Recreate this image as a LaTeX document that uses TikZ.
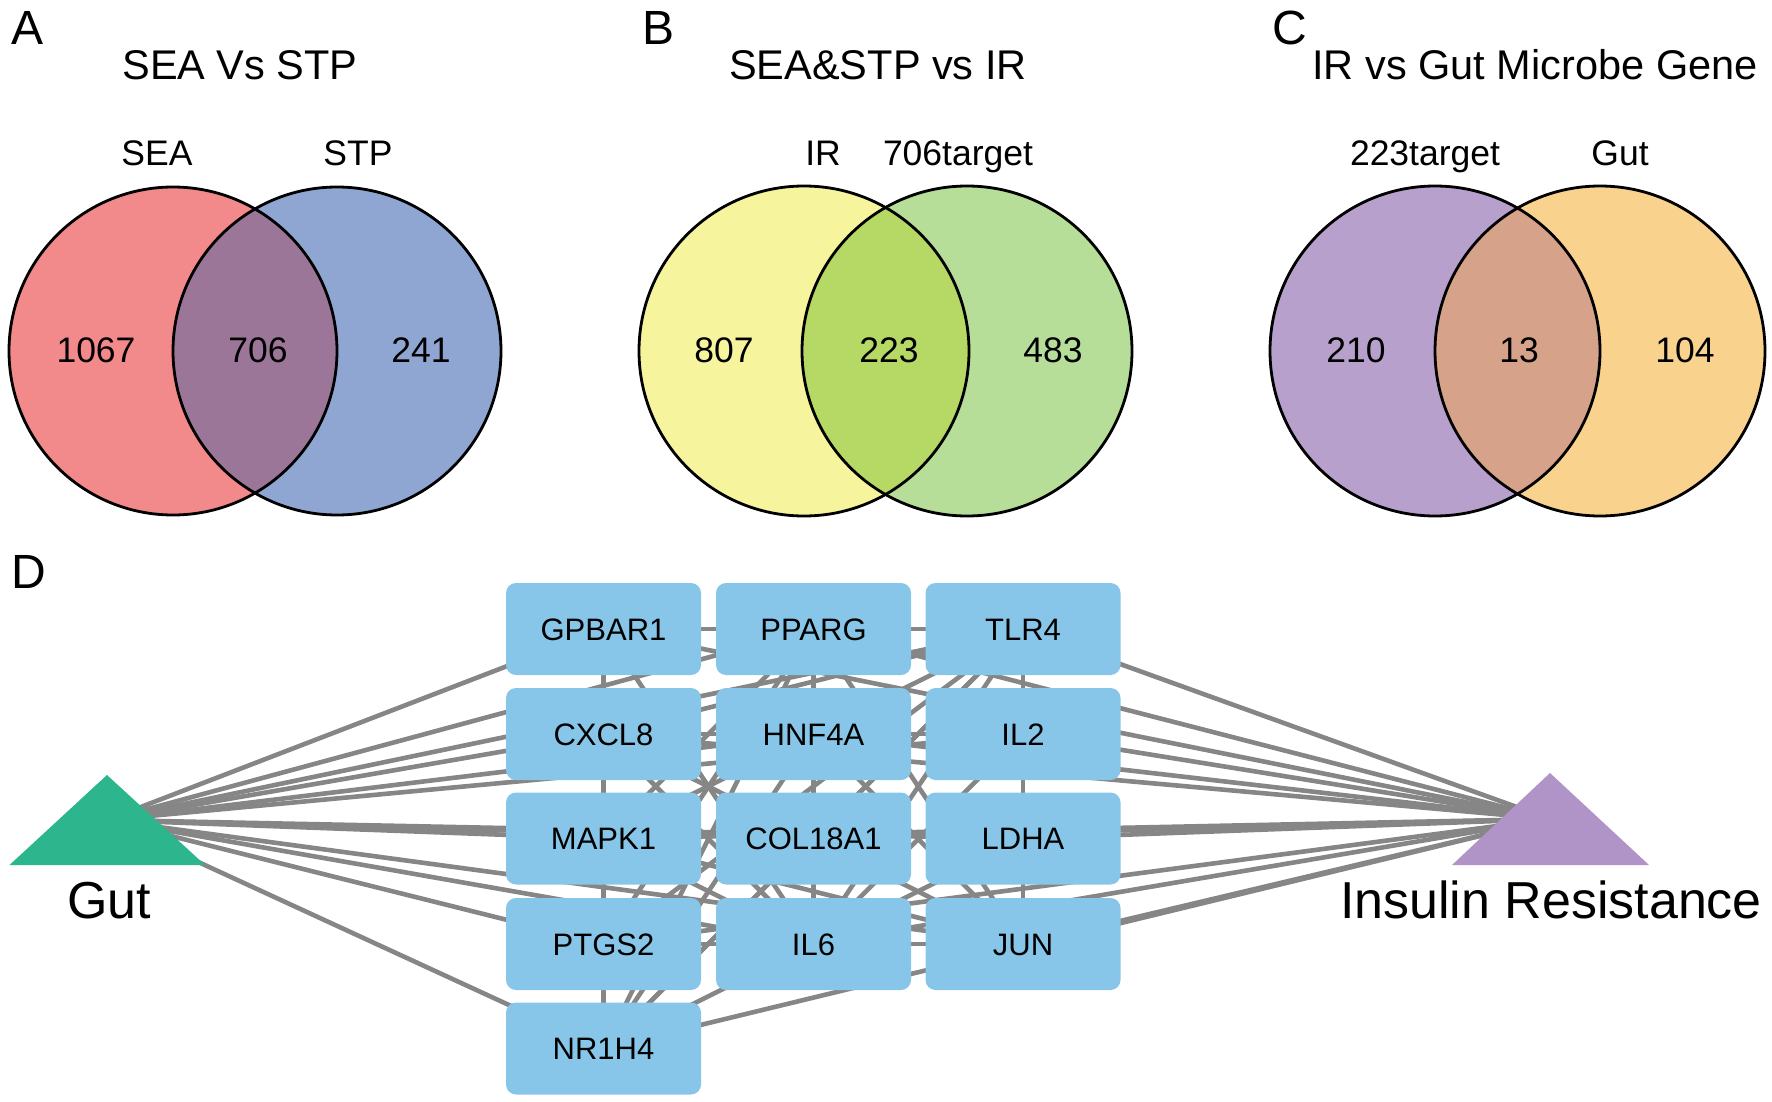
\documentclass[tikz,border=0pt]{standalone}
\usepackage{fontspec}
\setmainfont{Liberation Sans}
\usetikzlibrary{backgrounds}
\definecolor{aleft}{HTML}{F2898B}
\definecolor{aright}{HTML}{8FA6D2}
\definecolor{aover}{HTML}{9C7698}
\definecolor{bleft}{HTML}{F6F59E}
\definecolor{bright}{HTML}{B7DE98}
\definecolor{bover}{HTML}{B6D864}
\definecolor{cleft}{HTML}{B8A0CC}
\definecolor{cright}{HTML}{F9D38E}
\definecolor{cover}{HTML}{D6A289}
\definecolor{geneblue}{HTML}{87C6E8}
\definecolor{gutgreen}{HTML}{2DB68E}
\definecolor{irpurple}{HTML}{B093C7}
\definecolor{edgegray}{HTML}{868686}
\newcommand{\myvenn}[6]{%
  \fill[#4] (#1,351) circle[radius=#3];
  \fill[#5] (#2,351) circle[radius=#3];
  \begin{scope}
    \clip (#1,351) circle[radius=#3];
    \fill[#6] (#2,351) circle[radius=#3];
  \end{scope}
  \draw[vennline] (#1,351) circle[radius=#3];
  \draw[vennline] (#2,351) circle[radius=#3];
}
\begin{document}
\begin{tikzpicture}[x=1pt,y=-1pt,
  vennline/.style={draw=black,line width=2.8pt},
  panel/.style={anchor=base west,inner sep=0pt,font=\fontsize{48}{56}\selectfont},
  title/.style={anchor=base,inner sep=0pt,font=\fontsize{41.5}{48}\selectfont},
  setlabel/.style={anchor=base,inner sep=0pt,font=\fontsize{35.5}{42}\selectfont},
  count/.style={anchor=base,inner sep=0pt,font=\fontsize{35.5}{42}\selectfont},
  gene/.style={rectangle,rounded corners=10pt,fill=geneblue,minimum width=195pt,minimum height=92pt,inner sep=0pt,font=\fontsize{31}{36}\selectfont,text height=22pt,text depth=0pt},
  biglabel/.style={anchor=base,inner sep=0pt,font=\fontsize{52}{60}\selectfont},
  edge/.style={draw=edgegray,line width=4.6pt}]
\useasboundingbox (0,0) rectangle (1772,1102);

% ---------- Panel A ----------
\node[panel] (lA) at (11,45) {A};
\node[title] (tA) at (240,80) {SEA Vs STP};
\myvenn{173}{337}{164}{aleft}{aright}{aover}
\node[setlabel] (sA1) at (157,166) {SEA};
\node[setlabel] (sA2) at (358,166) {STP};
\node[count] (nA1) at (96,362.5) {1067};
\node[count] (nA2) at (258,362.5) {706};
\node[count] (nA3) at (421,362.5) {241};

% ---------- Panel B ----------
\node[panel] (lB) at (642,45) {B};
\node[title] (tB) at (878,80) {SEA\&STP vs IR};
\myvenn{804}{967}{165}{bleft}{bright}{bover}
\node[setlabel] (sB1) at (823,166) {IR};
\node[setlabel] (sB2) at (958,166) {706target};
\node[count] (nB1) at (724,362.5) {807};
\node[count] (nB2) at (889,362.5) {223};
\node[count] (nB3) at (1053,362.5) {483};

% ---------- Panel C ----------
\node[panel] (lC) at (1272,45) {C};
\node[title] (tC) at (1535,80) {IR vs Gut Microbe Gene};
\myvenn{1435}{1600}{165}{cleft}{cright}{cover}
\node[setlabel] (sC1) at (1425,166) {223target};
\node[setlabel] (sC2) at (1620,166) {Gut};
\node[count] (nC1) at (1356,362.5) {210};
\node[count] (nC2) at (1519,362.5) {13};
\node[count] (nC3) at (1685,362.5) {104};

% ---------- Panel D ----------
\node[panel] (lD) at (11,588) {D};

\node[gene] (g1) at (603.5,629) {GPBAR1};
\node[gene] (g2) at (813.5,629) {PPARG};
\node[gene] (g3) at (1023,629) {TLR4};
\node[gene] (g4) at (603.5,734) {CXCL8};
\node[gene] (g5) at (813.5,734) {HNF4A};
\node[gene] (g6) at (1023,734) {IL2};
\node[gene] (g7) at (603.5,838.5) {MAPK1};
\node[gene] (g8) at (813.5,838.5) {COL18A1};
\node[gene] (g9) at (1023,838.5) {LDHA};
\node[gene] (g10) at (603.5,944) {PTGS2};
\node[gene] (g11) at (813.5,944) {IL6};
\node[gene] (g12) at (1023,944) {JUN};
\node[gene] (g13) at (603.5,1048.5) {NR1H4};

\coordinate (gut) at (107,820);
\coordinate (ir) at (1550,819);
\fill[gutgreen] (107,775) -- (9.5,865) -- (205,865) -- cycle;
\fill[irpurple] (1550,773) -- (1452,865) -- (1649,865) -- cycle;
\node[biglabel] (gutlabel) at (109,918) {Gut};
\node[biglabel] (irlabel) at (1551,918) {Insulin Resistance};

\begin{pgfonlayer}{background}
  \foreach \i in {1,...,13} {
    \draw[edge] (gut) -- (g\i.center);
    \draw[edge] (ir) -- (g\i.center);
  }
  \foreach \a/\b in {1/13,1/2,2/3,3/12,2/11,2/5,2/13,5/13,4/11,3/11,10/11,11/12,7/11,6/11,
                     3/4,4/10,4/12,3/10,3/7,10/12,2/10,7/12,2/12,2/7,4/6,11/13,8/13,3/13,
                     5/12,3/8,5/11,9/12,9/11,1/11,4/7,6/12} {
    \draw[edge] (g\a.center) -- (g\b.center);
  }
\end{pgfonlayer}
\end{tikzpicture}
\end{document}
